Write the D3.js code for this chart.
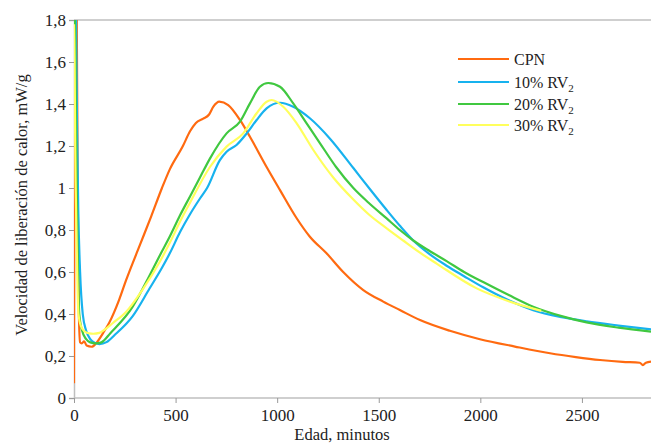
<!DOCTYPE html>
<html>
<head>
<meta charset="utf-8">
<script src="https://cdn.jsdelivr.net/npm/d3@7"></script>
<style>
	body{margin:0;background:#fff;}
</style>
</head>
<body>
<div id="app"></div>
<script>
// minutes / mW/g
const cpnT = [0, 4, 13, 18, 24, 30, 38, 50, 62, 87, 110, 150, 174, 223, 256, 325, 380, 433, 472, 536, 571, 600, 636, 665, 686, 715, 759, 817, 866, 948, 1014, 1096, 1161, 1243, 1325, 1424, 1522, 1604, 1703, 1850, 1998, 2170, 2343, 2470, 2589, 2700, 2785, 2800, 2815, 2840];
const cpnV = [0.07, 1.9, 1.9, 1.0, 0.4, 0.265, 0.26, 0.27, 0.25, 0.244, 0.262, 0.32, 0.36, 0.47, 0.56, 0.73, 0.865, 1.0, 1.09, 1.2, 1.27, 1.31, 1.33, 1.35, 1.387, 1.411, 1.395, 1.324, 1.244, 1.10, 0.99, 0.856, 0.768, 0.689, 0.60, 0.514, 0.459, 0.419, 0.371, 0.32, 0.28, 0.245, 0.213, 0.195, 0.181, 0.172, 0.168, 0.157, 0.168, 0.173];

const rv10T = [8, 10, 15, 21, 30, 43, 60, 80, 105, 125, 160, 200, 289, 371, 433, 472, 522, 571, 620, 655, 718, 751, 800, 850, 899, 948, 1014, 1079, 1161, 1260, 1375, 1456, 1539, 1604, 1670, 1750, 1834, 1920, 2014, 2140, 2260, 2400, 2523, 2680, 2840];
const rv10V = [1.9, 1.8, 1.3, 0.895, 0.6, 0.4, 0.32, 0.28, 0.262, 0.257, 0.266, 0.3, 0.39, 0.52, 0.62, 0.69, 0.79, 0.875, 0.95, 1.0, 1.133, 1.173, 1.205, 1.26, 1.324, 1.379, 1.406, 1.387, 1.332, 1.235, 1.095, 0.995, 0.895, 0.82, 0.75, 0.685, 0.63, 0.58, 0.527, 0.465, 0.418, 0.385, 0.365, 0.345, 0.327];

const rv20T = [3, 6, 12, 18, 26, 40, 60, 80, 108, 135, 180, 289, 354, 423, 472, 522, 571, 620, 669, 751, 817, 866, 915, 956, 1014, 1079, 1145, 1211, 1290, 1375, 1450, 1539, 1604, 1670, 1750, 1834, 1920, 2014, 2140, 2260, 2400, 2523, 2680, 2840];
const rv20V = [1.9, 1.7, 1.1, 0.7, 0.4, 0.32, 0.28, 0.265, 0.26, 0.265, 0.31, 0.435, 0.55, 0.68, 0.77, 0.87, 0.96, 1.05, 1.14, 1.26, 1.316, 1.403, 1.482, 1.50, 1.482, 1.403, 1.308, 1.213, 1.1, 1.0, 0.93, 0.855, 0.8, 0.75, 0.7, 0.652, 0.6, 0.552, 0.49, 0.435, 0.39, 0.36, 0.335, 0.316];

const rv30T = [0, 3, 6, 12, 22, 35, 55, 75, 95, 125, 150, 190, 256, 340, 423, 472, 522, 571, 669, 751, 833, 899, 948, 973, 1030, 1096, 1178, 1276, 1375, 1450, 1539, 1620, 1703, 1785, 1982, 2146, 2300];
const rv30V = [1.78, 1.6, 1.2, 0.8, 0.4, 0.34, 0.315, 0.308, 0.306, 0.31, 0.325, 0.356, 0.41, 0.52, 0.65, 0.74, 0.84, 0.93, 1.10, 1.197, 1.26, 1.356, 1.411, 1.419, 1.387, 1.308, 1.181, 1.05, 0.945, 0.875, 0.808, 0.75, 0.692, 0.64, 0.522, 0.459, 0.415];

const seriesNames = ["CPN", "10% RV", "20% RV", "30% RV"];
const seriesSub = ["", "2", "2", "2"];
const seriesColors = ["#ff6a10", "#17b2ee", "#40c840", "#ffff5c"];
const seriesT = [cpnT, rv10T, rv20T, rv30T];
const seriesV = [cpnV, rv10V, rv20V, rv30V];

const xTicks = [0, 500, 1000, 1500, 2000, 2500];
const yTicks = [0, 0.2, 0.4, 0.6, 0.8, 1, 1.2, 1.4, 1.6, 1.8];

const W = 651, H = 445;
const pL = 74, pT = 20, pR = 651, pB = 398;
const serif = "'Liberation Serif', 'Times New Roman', 'DejaVu Serif', serif";

const svg = d3.select("#app").append("svg").attr("width", W).attr("height", H);

const x = d3.scaleLinear().domain([0, 2840]).range([pL, pR]);
const y = d3.scaleLinear().domain([0, 1.8]).range([pB, pT]);

svg.append("clipPath").attr("id", "plot")
	.append("rect").attr("x", pL).attr("y", pT).attr("width", pR - pL).attr("height", pB - pT);

// top border of plot area
svg.append("line").attr("x1", pL).attr("x2", pR).attr("y1", pT).attr("y2", pT)
	.attr("stroke", "#bfbfbf").attr("stroke-width", 1.5);

function yf(v){
	return v === 0 || v === 1 ? String(v) : v.toFixed(1).replace(".", ",");
}

const yAxis = svg.append("g").attr("transform", "translate(" + pL + ",0)")
	.call(d3.axisLeft(y).tickValues(yTicks).tickFormat(yf).tickSize(5).tickPadding(3));
const xAxis = svg.append("g").attr("transform", "translate(0," + pB + ")")
	.call(d3.axisBottom(x).tickValues(xTicks).tickFormat(d3.format("d")).tickSize(5).tickPadding(6));
[yAxis, xAxis].forEach(function(a){
	a.attr("font-family", serif);
	a.select(".domain").attr("stroke", "#bfbfbf").attr("stroke-width", 1.5);
	a.selectAll(".tick line").attr("stroke", "#9a9a9a");
	a.selectAll("text").attr("font-size", 17).attr("fill", "#222");
});
xAxis.select(".domain").attr("d", "M" + pL + ",0H" + pR);

const line = d3.line().x(function(d){ return x(d[0]); }).y(function(d){ return y(d[1]); }).curve(d3.curveMonotoneX);

const plot = svg.append("g").attr("clip-path", "url(#plot)");
seriesT.forEach(function(ts, i){
	const pts = ts.map(function(t, k){ return [t, seriesV[i][k]]; });
	plot.append("path").datum(pts).attr("d", line)
		.attr("fill", "none").attr("stroke", seriesColors[i]).attr("stroke-width", 2.2)
		.attr("stroke-linejoin", "round");
});

// legend
const lg = svg.append("g").attr("font-family", serif).attr("fill", "#222");
const legY = [59, 82, 104, 125];
seriesNames.forEach(function(n, i){
	lg.append("line").attr("x1", 458).attr("x2", 509).attr("y1", legY[i]).attr("y2", legY[i])
		.attr("stroke", seriesColors[i]).attr("stroke-width", 2.2);
	const t = lg.append("text").attr("x", 514).attr("y", legY[i] + 5.5).attr("font-size", 16).text(n);
	if(seriesSub[i]){
		t.append("tspan").attr("font-size", 11).attr("dy", 4).text(seriesSub[i]);
	}
});

// axis titles
svg.append("text").attr("transform", "translate(27,205) rotate(-90)")
	.attr("text-anchor", "middle").attr("font-size", 16.5).attr("font-family", serif).attr("fill", "#222")
	.text("Velocidad de liberación de calor, mW/g");
svg.append("text").attr("x", 342).attr("y", 440).attr("text-anchor", "middle")
	.attr("font-size", 16.5).attr("font-family", serif).attr("fill", "#222")
	.text("Edad, minutos");
</script>
</body>
</html>
